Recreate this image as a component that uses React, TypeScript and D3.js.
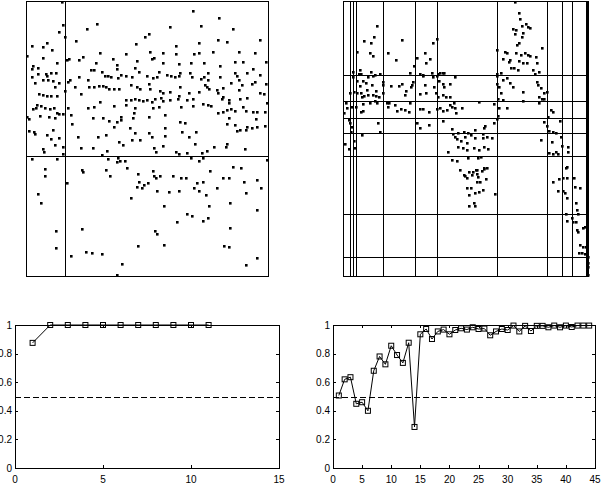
import React from "react";
import * as d3 from "d3";

// ---------- data ----------
const leftPoints: [number, number][] = [
  [1.07,8.23],[1.10,7.53],[1.00,7.33],[1.82,7.40],[2.12,7.56],[3.70,7.26],[3.57,7.18],[3.30,6.96],[0.19,6.90],[0.52,6.86],
  [0.64,6.98],[0.79,6.78],[0.02,6.60],[1.18,7.16],[1.50,7.06],[2.22,6.68],[3.00,6.66],[2.60,6.50],[2.74,6.33],[2.74,6.20],
  [1.72,6.56],[1.58,6.48],[1.30,6.50],[1.24,6.48],[0.92,6.40],[0.52,6.53],[2.10,6.40],[3.34,6.45],[3.72,6.73],[0.22,6.30],
  [0.19,6.20],[0.37,6.23],[0.37,6.06],[0.60,6.06],[0.64,6.00],[0.75,6.08],[0.89,6.10],[0.52,5.88],[0.65,5.88],[0.81,5.86],
  [1.00,5.80],[0.86,5.66],[0.26,5.78],[0.19,5.98],[1.94,6.18],[2.04,6.18],[2.27,6.13],[2.37,6.00],[2.47,6.00],[2.54,5.96],
  [2.77,5.94],[2.86,6.03],[3.17,5.96],[3.27,6.23],[3.40,6.13],[3.64,6.00],[1.32,5.88],[1.27,5.83],[1.60,5.96],[1.86,5.88],
  [1.90,5.66],[2.04,5.68],[2.19,5.70],[2.30,5.70],[2.40,5.66],[2.50,5.60],[2.65,5.62],[2.80,5.60],[3.00,6.00],[3.15,5.73],
  [3.34,5.66],[3.42,5.60],[3.70,5.76],[1.47,5.66],[1.66,5.46],[0.39,5.46],[0.52,5.43],[0.62,5.40],[0.75,5.40],[0.92,5.40],
  [1.18,5.56],[2.22,5.23],[2.64,5.10],[3.00,5.28],[3.00,5.13],[3.14,5.28],[3.27,5.30],[3.40,5.28],[3.50,5.26],[3.64,5.28],
  [3.27,5.05],[3.24,4.90],[0.20,5.00],[0.30,5.03],[0.34,5.13],[0.44,5.10],[0.57,5.05],[0.72,5.00],[0.84,5.03],[0.94,4.88],
  [1.00,4.86],[1.10,4.86],[1.27,5.03],[1.34,4.83],[1.87,5.05],[2.02,4.73],[2.04,5.06],[2.32,4.73],[2.50,4.66],[2.64,4.48],
  [2.72,4.63],[2.85,4.78],[2.85,4.68],[3.22,4.73],[0.04,4.76],[0.10,4.70],[0.42,4.80],[0.70,4.78],[0.86,4.73],[0.10,4.36],
  [0.24,4.33],[0.27,4.26],[0.64,4.22],[0.80,4.38],[1.00,4.13],[0.75,4.10],[1.57,4.18],[2.17,4.18],[2.40,4.23],[3.12,4.43],
  [3.27,4.28],[3.70,4.28],[3.70,4.76],[1.37,4.56],[3.42,4.08],
  [5.02,7.96],[5.79,7.73],[4.32,7.48],[5.24,7.50],[6.20,7.40],[5.77,7.08],[6.02,7.01],[4.50,6.90],[5.20,7.00],[7.02,7.08],
  [4.12,6.68],[4.50,6.66],[5.04,6.66],[5.20,6.68],[5.62,6.71],[6.40,6.71],[6.87,6.70],[7.20,6.43],[3.77,6.50],[3.84,6.53],
  [4.10,6.40],[4.60,6.36],[4.94,6.38],[5.34,6.38],[5.82,6.30],[6.27,6.42],[6.52,6.43],[3.82,5.93],[3.94,5.98],[3.99,6.13],
  [4.22,6.03],[4.34,6.00],[4.47,5.96],[4.60,6.00],[4.62,6.10],[4.92,6.08],[4.97,5.96],[5.24,5.90],[5.34,5.96],[5.47,6.08],
  [5.47,5.88],[5.82,5.96],[6.27,6.08],[6.32,6.00],[6.62,6.10],[6.82,6.20],[7.02,6.03],[6.87,5.83],[6.77,5.76],[7.20,5.75],
  [6.14,5.80],[6.40,5.88],[6.47,5.73],[3.72,5.60],[4.02,5.56],[4.10,5.50],[4.32,5.53],[4.62,5.66],[4.60,5.40],[4.90,5.48],
  [5.20,5.53],[5.37,5.73],[5.42,5.66],[5.50,5.60],[5.72,5.58],[5.90,5.63],[5.77,5.48],[5.90,5.38],[6.38,5.58],[6.62,5.33],
  [7.02,5.48],[7.14,5.45],[3.77,5.23],[3.87,5.30],[4.04,5.33],[4.12,5.26],[4.32,5.28],[4.57,5.30],[4.82,5.28],[5.02,5.30],
  [5.32,5.16],[5.47,5.13],[5.54,5.10],[5.87,5.32],[6.10,5.28],[6.10,5.18],[6.42,5.30],[3.80,5.03],[3.99,5.06],[4.17,4.83],
  [4.64,5.06],[5.02,5.10],[5.77,4.88],[5.90,4.93],[6.04,4.98],[6.14,5.00],[6.27,4.96],[6.52,5.06],[6.60,4.96],[6.80,4.93],
  [6.94,4.93],[7.17,4.93],[7.22,5.18],[6.10,4.73],[6.90,4.70],[4.62,4.63],[4.77,4.60],[6.02,4.56],[6.27,4.53],[6.62,4.48],
  [6.92,4.48],[4.17,4.43],[6.32,4.36],[6.42,4.38],[6.60,4.38],[6.77,4.45],[3.77,4.18],[4.17,4.20],[5.10,4.33],[7.17,4.50],
  [4.67,4.33],[4.90,4.18],
  [0.87,3.93],[1.10,3.88],[0.52,3.81],[0.54,3.73],[1.12,3.65],[2.00,3.85],[1.64,3.83],[2.44,3.75],[2.80,4.01],[2.90,3.93],
  [3.17,4.08],[2.29,3.63],[0.17,3.51],[0.92,3.51],[2.47,3.51],[2.77,3.53],[2.74,3.41],[2.82,3.45],[2.97,3.45],[3.02,3.23],
  [0.57,3.21],[1.67,3.18],[1.72,3.11],[2.40,3.18],[2.52,3.01],[3.37,3.05],[0.57,3.01],[1.22,2.78],[3.39,2.83],[3.32,2.68],
  [3.47,2.63],[3.54,2.73],[3.67,2.78],[0.37,2.45],[0.44,2.18],[3.15,2.33],[0.89,1.35],[1.67,1.41],[0.90,0.85],[1.35,0.61],
  [1.80,0.71],[1.97,0.68],[2.29,0.65],[3.35,0.90],[2.89,0.35],[2.74,0.02],
  [5.07,3.95],[5.64,3.88],[6.00,3.88],[6.04,3.95],[6.57,3.81],[3.84,3.83],[3.90,3.71],[4.12,3.91],[4.50,3.71],[4.84,3.68],
  [5.27,3.68],[5.42,3.75],[4.60,3.65],[4.94,3.55],[5.20,3.45],[5.30,3.55],[7.24,3.48],[6.20,3.28],[6.44,3.23],[3.80,3.15],
  [3.84,3.01],[3.90,2.95],[4.02,3.01],[4.42,3.01],[4.64,2.93],[4.80,2.95],[5.52,3.15],[5.90,2.95],[6.10,2.95],[6.92,2.88],
  [6.54,2.81],[5.14,2.78],[5.30,2.83],[3.92,2.55],[4.30,2.51],[4.60,2.55],[5.04,2.63],[5.20,2.55],[5.39,2.43],[5.74,2.63],
  [6.60,2.48],[7.05,2.63],[4.14,2.11],[5.50,2.11],[6.12,2.18],[6.94,1.98],[4.82,1.85],[4.97,1.81],[5.30,1.65],[5.47,1.73],
  [4.54,1.61],[6.12,1.43],[3.87,1.35],[3.94,1.25],[4.14,0.93],[5.94,0.91],[6.10,0.88],[6.92,0.53],[6.60,0.33],
];

const rightPoints: [number, number][] = [
  [1.03,7.50],[0.93,7.16],[0.63,7.06],[0.85,7.00],[1.77,7.08],[2.70,6.98],[2.83,7.10],[0.43,6.73],[0.80,6.68],[0.90,6.60],
  [1.35,6.68],[1.60,6.48],[2.23,6.53],[2.47,6.68],[2.60,6.50],
  [5.16,8.23],[5.29,7.90],[5.31,7.70],[5.36,7.50],[5.49,7.56],[5.56,7.48],[5.61,7.43],[5.09,7.40],[5.19,7.38],[5.16,7.26],
  [5.39,7.28],[5.36,7.18],[5.29,7.00],[5.23,6.93],[4.91,6.68],[4.63,6.78],[4.86,6.73],[5.19,6.70],[5.33,6.63],[5.46,6.68],
  [5.56,6.63],[5.61,6.60],[5.96,6.83],[5.79,6.56],[4.79,6.50],[5.01,6.48],
  [0.30,6.13],[0.50,6.18],[0.55,6.06],[0.85,6.13],[2.00,6.10],[2.40,6.03],[2.50,6.38],[2.67,6.10],[2.85,6.06],[3.03,6.10],[2.13,6.30],
  [4.99,6.43],[5.29,6.46],[5.41,6.40],[5.51,6.38],[5.83,6.40],[5.03,6.23],[5.13,6.23],[5.26,6.18],[5.69,6.18],[4.73,6.10],
  [5.89,6.13],[4.63,6.06],[5.76,6.06],
  [0.29,5.96],[0.49,6.06],[0.41,5.86],[0.59,5.86],[0.69,5.80],[0.76,5.98],[0.89,6.00],[0.96,6.03],[1.11,6.06],[0.51,5.70],
  [0.71,5.58],[0.86,5.73],[1.21,5.83],[1.19,5.73],[1.43,5.70],[1.69,5.70],[1.76,5.76],[2.06,5.73],[2.03,5.66],[2.09,5.83],
  [2.31,6.06],[2.41,6.00],[2.69,5.98],[2.83,6.00],[2.91,6.08],[3.01,6.10],[3.36,5.96],[2.46,5.73],[2.73,5.68],[2.89,5.86],
  [2.99,5.76],[3.03,5.68],[3.21,5.76],[0.21,5.50],[0.33,5.53],[0.41,5.48],[0.53,5.50],[0.56,5.36],[0.63,5.40],[0.76,5.43],
  [0.91,5.43],[0.99,5.40],[1.09,5.36],[1.21,5.50],[1.86,5.43],[2.31,5.46],[2.49,5.50],[2.79,5.50],[2.86,5.36],[3.01,5.43],
  [3.09,5.36],[3.21,5.36],[0.99,5.56],[1.89,5.56],[0.09,5.20],[0.13,5.03],[0.26,5.08],[0.39,5.08],[0.53,4.93],[0.61,4.96],
  [0.61,5.16],[0.81,5.20],[0.96,5.26],[1.01,5.18],[1.31,5.20],[1.39,5.18],[1.36,5.08],[1.56,5.13],[1.63,4.96],[1.73,5.00],
  [1.86,4.98],[2.01,5.18],[1.99,4.93],[2.31,5.00],[2.39,5.00],[2.59,4.93],[2.83,5.00],[2.91,5.03],[3.01,4.96],[3.11,4.98],
  [3.21,5.13],[3.26,5.08],[3.36,5.03],[3.39,4.88],[3.56,5.03],[3.33,5.18],[0.03,4.88],[0.19,4.68],[0.21,4.60],[0.26,4.48],
  [0.23,4.33],[1.06,4.60],[1.11,4.33],[0.56,4.23],[2.21,4.60],[2.31,4.43],[2.59,4.53],[2.99,4.66],[3.26,4.40],[3.29,4.26],
  [3.46,4.30],[3.63,4.33],[3.76,4.30],[3.96,4.38],[4.23,4.43],[4.19,4.26],[4.26,4.50],[4.53,4.58],[4.61,4.70],[4.66,4.80],
  [4.09,5.23],[4.53,5.16],[4.69,5.03],[4.93,5.03],[5.39,5.26],[5.89,5.20],[5.96,5.30],[6.03,5.30],[5.89,5.38],[6.03,5.48],
  [6.13,5.53],[5.93,5.63],[5.86,5.73],[5.81,5.83],[5.41,5.53],[5.11,5.68],[5.01,5.78],[4.81,5.88],[4.69,5.66],[4.73,5.48],
  [4.61,6.00],[4.61,5.76],[4.91,5.93],[3.36,4.16],[3.41,4.10],[3.53,4.06],[3.66,4.18],[3.71,3.98],[3.83,4.23],[3.96,4.13],
  [4.19,4.13],[4.31,4.16],[4.46,4.13],[3.46,3.88],[3.59,3.83],[3.71,3.78],[3.93,3.83],[4.09,3.78],[4.23,3.86],[4.36,3.80],
  [3.16,3.73],[3.26,3.48],[3.43,3.46],[3.76,3.53],[4.06,3.53],[4.13,3.56],[4.23,3.23],[4.03,3.18],[3.51,3.18],[6.16,4.78],
  [6.23,4.98],[6.31,4.93],[6.03,4.63],[6.11,4.50],[6.19,4.36],[6.29,4.33],[6.39,4.30],[6.51,4.66],[6.53,4.18],[5.93,4.08],
  [6.26,4.03],[6.19,3.70],[6.31,3.66],[6.39,3.73],[6.46,3.66],[6.56,3.90],[6.76,3.86],[6.76,3.73],[6.71,3.26],[4.66,5.30],
  [4.79,5.28],[0.06,3.95],[0.19,3.80],[0.33,4.05],[0.36,3.85],
  [3.65,3.01],[3.73,2.65],
  [3.79,3.11],[3.63,3.03],[3.73,2.95],[3.86,3.03],[3.91,3.13],[3.99,3.18],[4.01,3.05],[4.06,2.98],[4.16,3.15],[4.23,3.21],
  [4.31,3.25],[4.29,2.91],[4.03,2.83],[4.11,2.81],[3.83,2.63],[3.79,2.43],[3.96,2.48],[4.09,2.53],[4.21,2.58],[4.56,2.45],
  [3.79,2.11],[3.93,2.18],[3.96,2.11],[6.69,3.23],[6.31,2.81],[6.49,2.91],[6.61,2.95],[6.73,2.93],[6.93,2.95],[6.96,2.68],
  [7.11,2.63],[6.46,2.55],[6.61,2.55],[6.66,2.48],[6.73,2.33],[6.99,2.18],[7.03,1.98],[7.06,1.85],[6.69,1.85],[6.86,1.75],
  [6.71,1.65],[6.91,1.61],[6.99,1.61],[7.03,1.38],[7.06,1.33],[7.19,1.43],[7.26,1.48],[7.11,0.93],[7.19,0.88],[7.29,0.88],
  [7.09,0.68],[7.16,0.68],[7.26,0.65],[7.33,0.78],[7.34,0.58],[7.34,0.38],[7.34,0.28],[7.34,0.03],
];

const leftSplitsX = [1.17];
const leftSplitsY = [3.6];
const rightSplitsX = [0.22, 0.29, 0.39, 1.21, 2.15, 2.81, 4.63, 6.13, 6.56, 6.87, 7.3, 7.33];
const rightSplitsY = [6.03, 5.26, 4.73, 4.28, 3.59, 1.85, 0.58];

const smallAccuracy = [0.875, 1, 1, 1, 1, 1, 1, 1, 1, 1, 1];
const largeAccuracy = [
  0.507, 0.62, 0.635, 0.449, 0.46, 0.40, 0.68, 0.78, 0.725, 0.855,
  0.79, 0.735, 0.876, 0.287, 0.935, 0.972, 0.902, 0.955, 0.968, 0.935,
  0.965, 0.977, 0.968, 0.984, 0.972, 0.975, 0.928, 0.955, 0.972, 0.965,
  0.996, 0.955, 0.994, 0.958, 0.994, 0.994, 0.984, 0.996, 0.984, 0.996,
  0.986, 0.996, 0.996, 0.996,
];
const smallXTicks = [0, 5, 10, 15];
const largeXTicks = [0, 5, 10, 15, 20, 25, 30, 35, 40, 45];
const yTicks = [0, 0.2, 0.4, 0.6, 0.8, 1];
const chanceLevel = 0.5;

const FONT = "'Liberation Sans', Arial, Helvetica, sans-serif";

function ScatterPanel({ points, splitsX, splitsY, x0, x1, y0, y1, xMax, yMax }: any) {
  const x = d3.scaleLinear().domain([0, xMax]).range([x0, x1]);
  const y = d3.scaleLinear().domain([0, yMax]).range([y1, y0]);
  return (
    <g>
      {splitsX.map((v: number, i: number) => (
        <line key={"vx" + i} x1={Math.round(x(v)) + 0.5} x2={Math.round(x(v)) + 0.5} y1={y0} y2={y1} stroke="#000" strokeWidth={1} shapeRendering="crispEdges" />
      ))}
      {splitsY.map((v: number, i: number) => (
        <line key={"hy" + i} y1={Math.round(y(v)) + 0.5} y2={Math.round(y(v)) + 0.5} x1={x0} x2={x1} stroke="#000" strokeWidth={1} shapeRendering="crispEdges" />
      ))}
      {points.map((p: [number, number], i: number) => (
        <rect key={"p" + i} x={Math.round(x(p[0])) - 1} y={Math.round(y(p[1])) - 1} width={2.6} height={2.6} fill="#000" />
      ))}
      <rect x={x0 + 0.5} y={y0 + 0.5} width={x1 - x0} height={y1 - y0} fill="none" stroke="#000" strokeWidth={1} shapeRendering="crispEdges" />
    </g>
  );
}

function AccuracyPanel({ values, xTicks, xMax, x0, x1, y0, y1 }: any) {
  const x = d3.scaleLinear().domain([0, xMax]).range([x0, x1]);
  const y = d3.scaleLinear().domain([0, 1]).range([y1, y0]);
  const line = d3.line<number>().x((_d, i) => x(i + 1)).y((d) => y(d));
  const tl = 3;
  return (
    <g fontFamily={FONT} fontSize={10} fill="#000">
      <line x1={x0} x2={x1} y1={Math.round(y(chanceLevel)) + 0.5} y2={Math.round(y(chanceLevel)) + 0.5} stroke="#000" strokeDasharray="6,3" shapeRendering="crispEdges" />
      <rect x={x0 + 0.5} y={y0 + 0.5} width={x1 - x0} height={y1 - y0} fill="none" stroke="#000" shapeRendering="crispEdges" />
      {yTicks.map((t) => (
        <g key={"yt" + t}>
          <line x1={x0} x2={x0 + tl} y1={Math.round(y(t)) + 0.5} y2={Math.round(y(t)) + 0.5} stroke="#000" shapeRendering="crispEdges" />
          <line x1={x1 - tl} x2={x1} y1={Math.round(y(t)) + 0.5} y2={Math.round(y(t)) + 0.5} stroke="#000" shapeRendering="crispEdges" />
          <text x={x0 - 3} y={y(t)} dy="0.35em" textAnchor="end" stroke="none">{String(t)}</text>
        </g>
      ))}
      {xTicks.map((t: number) => (
        <g key={"xt" + t}>
          <line x1={Math.round(x(t)) + 0.5} x2={Math.round(x(t)) + 0.5} y1={y1} y2={y1 - tl} stroke="#000" shapeRendering="crispEdges" />
          <line x1={Math.round(x(t)) + 0.5} x2={Math.round(x(t)) + 0.5} y1={y0} y2={y0 + tl} stroke="#000" shapeRendering="crispEdges" />
          <text x={x(t)} y={y1 + 15} textAnchor="middle" stroke="none">{String(t)}</text>
        </g>
      ))}
      <path d={line(values) || ""} fill="none" stroke="#000" strokeWidth={1} />
      {values.map((v: number, i: number) => (
        <rect key={"m" + i} x={x(i + 1) - 2.5} y={y(v) - 2.5} width={5} height={5} fill="none" stroke="#000" strokeWidth={1} />
      ))}
    </g>
  );
}

export default function App() {
  return (
    <svg width={604} height={484} style={{ position: "absolute", left: 0, top: 0, background: "#fff" }}>
      <rect width={604} height={484} fill="#fff" />
      <ScatterPanel points={leftPoints} splitsX={leftSplitsX} splitsY={leftSplitsY} x0={26} x1={268} y0={1} y1={276} xMax={7.26} yMax={8.25} />
      <ScatterPanel points={rightPoints} splitsX={rightSplitsX} splitsY={rightSplitsY} x0={343} x1={588} y0={1} y1={276} xMax={7.35} yMax={8.25} />
      <AccuracyPanel values={smallAccuracy} xTicks={smallXTicks} xMax={15} x0={15} x1={279} y0={325} y1={468} />
      <AccuracyPanel values={largeAccuracy} xTicks={largeXTicks} xMax={45} x0={333} x1={595} y0={325} y1={468} />
    </svg>
  );
}
